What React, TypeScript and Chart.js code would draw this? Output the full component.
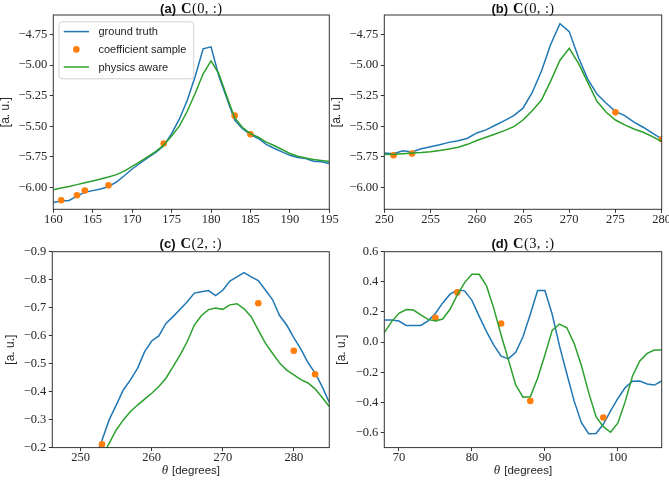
import React, { useEffect, useRef } from 'react';
import { Chart, registerables } from 'chart.js';

Chart.register(...registerables);

// ---------------- data ----------------
const SERIES_NAMES = ['ground truth', 'coefficient sample', 'physics aware'];
const PANEL_TAGS = ['a', 'b', 'c', 'd'];
const PANEL_COEFS = ['(0, :)', '(0, :)', '(2, :)', '(3, :)'];
const Y_LABEL = '[a. u.]';
const X_LABEL_SYMBOL = 'θ';
const X_LABEL_TEXT = '[degrees]';

// panel (a)
const A_THETA = [160, 161, 162, 163, 164, 165, 166, 167, 168, 169, 170, 171, 172, 173, 174, 175, 176, 177, 178, 179, 180, 181, 182, 183, 184, 185, 186, 187, 188, 189, 190, 191, 192, 193, 194, 195];
const A_TRUTH = [-6.125, -6.112, -6.108, -6.072, -6.04, -6.027, -6.013, -5.993, -5.958, -5.905, -5.85, -5.803, -5.756, -5.715, -5.66, -5.56, -5.44, -5.285, -5.09, -4.866, -4.85, -5.09, -5.27, -5.45, -5.52, -5.568, -5.6, -5.648, -5.68, -5.71, -5.738, -5.756, -5.764, -5.786, -5.79, -5.805];
const A_PHYS = [-6.02, -6.006, -5.993, -5.978, -5.963, -5.948, -5.932, -5.915, -5.896, -5.868, -5.828, -5.79, -5.748, -5.705, -5.655, -5.58, -5.497, -5.375, -5.23, -5.07, -4.965, -5.07, -5.255, -5.43, -5.51, -5.56, -5.59, -5.63, -5.658, -5.69, -5.723, -5.746, -5.76, -5.772, -5.78, -5.788];
const A_SAMPLE_THETA = [161, 163, 164, 167, 174, 183, 185];
const A_SAMPLE = [-6.106, -6.065, -6.027, -5.984, -5.641, -5.413, -5.565];

// panel (b)
const B_THETA = [250, 251, 252, 253, 254, 255, 256, 257, 258, 259, 260, 261, 262, 263, 264, 265, 266, 267, 268, 269, 270, 271, 272, 273, 274, 275, 276, 277, 278, 279, 280];
const B_TRUTH = [-5.72, -5.725, -5.7, -5.71, -5.685, -5.668, -5.652, -5.632, -5.618, -5.598, -5.555, -5.53, -5.492, -5.454, -5.413, -5.352, -5.223, -5.047, -4.829, -4.66, -4.725, -4.937, -5.114, -5.237, -5.312, -5.378, -5.413, -5.467, -5.508, -5.557, -5.603];
const B_PHYS = [-5.731, -5.729, -5.725, -5.72, -5.715, -5.708, -5.699, -5.686, -5.672, -5.648, -5.617, -5.59, -5.563, -5.536, -5.503, -5.449, -5.373, -5.285, -5.128, -4.959, -4.862, -4.986, -5.141, -5.296, -5.386, -5.449, -5.489, -5.522, -5.549, -5.585, -5.625];
const B_SAMPLE_THETA = [251, 253, 275, 280];
const B_SAMPLE = [-5.737, -5.724, -5.386, -5.606];

// panel (c)
const C_THETA = [252, 253, 254, 255, 256, 257, 258, 259, 260, 261, 262, 263, 264, 265, 266, 267, 268, 269, 270, 271, 272, 273, 274, 275, 276, 277, 278, 279, 280, 281, 282, 283, 284, 285];
const C_TRUTH = [-0.16, -0.226, -0.299, -0.352, -0.406, -0.442, -0.483, -0.543, -0.581, -0.599, -0.644, -0.668, -0.694, -0.721, -0.752, -0.757, -0.761, -0.743, -0.762, -0.795, -0.81, -0.825, -0.81, -0.797, -0.763, -0.729, -0.672, -0.638, -0.593, -0.552, -0.504, -0.466, -0.418, -0.361];
const C_PHYS = [-0.12, -0.168, -0.215, -0.263, -0.299, -0.329, -0.352, -0.373, -0.394, -0.418, -0.448, -0.489, -0.531, -0.579, -0.638, -0.672, -0.693, -0.699, -0.694, -0.71, -0.714, -0.696, -0.668, -0.62, -0.573, -0.537, -0.502, -0.477, -0.46, -0.443, -0.431, -0.41, -0.379, -0.347];
const C_SAMPLE_THETA = [253, 275, 280, 283];
const C_SAMPLE = [-0.212, -0.716, -0.546, -0.462];

// panel (d)
const D_THETA = [68, 69, 70, 71, 72, 73, 74, 75, 76, 77, 78, 79, 80, 81, 82, 83, 84, 85, 86, 87, 88, 89, 90, 91, 92, 93, 94, 95, 96, 97, 98, 99, 100, 101, 102, 103, 104, 105, 106];
const D_TRUTH = [0.147, 0.146, 0.14, 0.111, 0.11, 0.111, 0.141, 0.19, 0.26, 0.318, 0.346, 0.34, 0.277, 0.171, 0.07, -0.02, -0.093, -0.111, -0.067, 0.035, 0.185, 0.342, 0.342, 0.185, -0.025, -0.21, -0.39, -0.535, -0.608, -0.606, -0.545, -0.457, -0.374, -0.302, -0.26, -0.258, -0.278, -0.285, -0.258];
const D_PHYS = [0.063, 0.136, 0.191, 0.216, 0.213, 0.18, 0.151, 0.14, 0.153, 0.218, 0.313, 0.395, 0.45, 0.45, 0.373, 0.224, 0.047, -0.118, -0.284, -0.365, -0.362, -0.24, -0.085, 0.078, 0.12, 0.095, -0.008, -0.155, -0.335, -0.495, -0.561, -0.598, -0.536, -0.395, -0.225, -0.125, -0.075, -0.052, -0.052];
const D_SAMPLE_THETA = [75, 78, 84, 88, 98];
const D_SAMPLE = [0.162, 0.33, 0.124, -0.39, -0.5];

// axis ranges and ticks
const AB_Y_RANGE = [-6.18, -4.589];
const AB_Y_TICKS = [-6.0, -5.75, -5.5, -5.25, -5.0, -4.75];
const AB_Y_TICK_LABELS = ['−6.00', '−5.75', '−5.50', '−5.25', '−5.00', '−4.75'];
const C_Y_RANGE = [-0.9, -0.2];
const C_Y_TICKS = [-0.9, -0.8, -0.7, -0.6, -0.5, -0.4, -0.3, -0.2];
const C_Y_TICK_LABELS = ['−0.9', '−0.8', '−0.7', '−0.6', '−0.5', '−0.4', '−0.3', '−0.2'];
const D_Y_RANGE = [-0.7, 0.6];
const D_Y_TICKS = [-0.6, -0.4, -0.2, 0.0, 0.2, 0.4, 0.6];
const D_Y_TICK_LABELS = ['−0.6', '−0.4', '−0.2', '0.0', '0.2', '0.4', '0.6'];

const A_X_RANGE = [160, 195];
const A_X_TICKS = [160, 165, 170, 175, 180, 185, 190, 195];
const B_X_RANGE = [250, 280];
const B_X_TICKS = [250, 255, 260, 265, 270, 275, 280];
const C_X_RANGE = [246, 285];
const C_X_TICKS = [250, 260, 270, 280];
const D_X_RANGE = [68, 106];
const D_X_TICKS = [70, 80, 90, 100];

// ---------------- styling / layout ----------------
const W = 669;
const H = 480;
const BLUE = '#1f77b4';
const ORANGE = '#ff7f0e';
const GREEN = '#2ca02c';
const INK = '#262626';
const Y_AXIS_W = 40;
const X_AXIS_H = 30;
const TICK_FONT = { family: '"Liberation Serif", serif', size: 12.5, lineHeight: 1 };

type Geom = { l: number; t: number; r: number; b: number; titleY: number; yLabelX: number; xLabelY: number | null; xPad: number; legend: boolean };

const GEOMS: Geom[] = [
  { l: 53.3, t: 15, r: 329.3, b: 209.3, titleY: 13, yLabelX: 6, xLabelY: null, xPad: 1, legend: true },
  { l: 384.3, t: 15, r: 661.7, b: 209.3, titleY: 13, yLabelX: 337, xLabelY: null, xPad: 1, legend: false },
  { l: 52.3, t: 251.7, r: 329.3, b: 447.6, titleY: 248, yLabelX: 11, xLabelY: 470.5, xPad: 0, legend: false },
  { l: 384.3, t: 251.7, r: 661.7, b: 447.6, titleY: 248, yLabelX: 342, xLabelY: 470.5, xPad: 0, legend: false },
];

type Panel = {
  theta: number[]; truth: number[]; phys: number[]; sTheta: number[]; sVal: number[];
  xRange: number[]; xTicks: number[]; yRange: number[]; yTicks: number[]; yTickLabels: string[]; reverse: boolean;
};

const PANELS: Panel[] = [
  { theta: A_THETA, truth: A_TRUTH, phys: A_PHYS, sTheta: A_SAMPLE_THETA, sVal: A_SAMPLE, xRange: A_X_RANGE, xTicks: A_X_TICKS, yRange: AB_Y_RANGE, yTicks: AB_Y_TICKS, yTickLabels: AB_Y_TICK_LABELS, reverse: false },
  { theta: B_THETA, truth: B_TRUTH, phys: B_PHYS, sTheta: B_SAMPLE_THETA, sVal: B_SAMPLE, xRange: B_X_RANGE, xTicks: B_X_TICKS, yRange: AB_Y_RANGE, yTicks: AB_Y_TICKS, yTickLabels: AB_Y_TICK_LABELS, reverse: false },
  { theta: C_THETA, truth: C_TRUTH, phys: C_PHYS, sTheta: C_SAMPLE_THETA, sVal: C_SAMPLE, xRange: C_X_RANGE, xTicks: C_X_TICKS, yRange: C_Y_RANGE, yTicks: C_Y_TICKS, yTickLabels: C_Y_TICK_LABELS, reverse: true },
  { theta: D_THETA, truth: D_TRUTH, phys: D_PHYS, sTheta: D_SAMPLE_THETA, sVal: D_SAMPLE, xRange: D_X_RANGE, xTicks: D_X_TICKS, yRange: D_Y_RANGE, yTicks: D_Y_TICKS, yTickLabels: D_Y_TICK_LABELS, reverse: false },
];

function makeDecor(idx: number, g: Geom) {
  return {
    id: 'decor' + idx,
    afterDraw(chart: any) {
      const ctx: CanvasRenderingContext2D = chart.ctx;
      const ca = chart.chartArea;
      const cx = (ca.left + ca.right) / 2;
      ctx.save();
      // frame
      ctx.strokeStyle = '#333';
      ctx.lineWidth = 1;
      ctx.strokeRect(ca.left, ca.top, ca.right - ca.left, ca.bottom - ca.top);

      // title
      ctx.fillStyle = '#111';
      ctx.textBaseline = 'alphabetic';
      const parts = [
        { text: '(' + PANEL_TAGS[idx] + ')', font: 'bold 13px "Liberation Sans", sans-serif', gap: 5, ls: '0px' },
        { text: 'C', font: 'bold 14.5px "Liberation Serif", serif', gap: 0.5, ls: '0px' },
        { text: PANEL_COEFS[idx], font: '14.5px "Liberation Serif", serif', gap: 0, ls: '0.4px' },
      ];
      let total = 0;
      const widths: number[] = [];
      for (const p of parts) {
        ctx.font = p.font;
        (ctx as any).letterSpacing = p.ls;
        const w = ctx.measureText(p.text).width;
        widths.push(w);
        total += w + p.gap;
      }
      let x = cx - total / 2;
      ctx.textAlign = 'left';
      parts.forEach((p, i) => {
        ctx.font = p.font;
        (ctx as any).letterSpacing = p.ls;
        ctx.fillText(p.text, x, g.titleY);
        x += widths[i] + p.gap;
      });
      (ctx as any).letterSpacing = '0px';

      // y label
      ctx.save();
      ctx.translate(g.yLabelX, (ca.top + ca.bottom) / 2);
      ctx.rotate(-Math.PI / 2);
      ctx.font = '12px "Liberation Sans", sans-serif';
      ctx.fillStyle = INK;
      ctx.textAlign = 'center';
      ctx.textBaseline = 'middle';
      ctx.fillText(Y_LABEL, 0, 0);
      ctx.restore();

      // x label
      if (g.xLabelY !== null) {
        ctx.fillStyle = INK;
        ctx.textBaseline = 'middle';
        ctx.textAlign = 'left';
        const f1 = 'italic 13px "Liberation Serif", serif';
        const f2 = '11.5px "Liberation Sans", sans-serif';
        ctx.font = f1;
        const w1 = ctx.measureText(X_LABEL_SYMBOL).width;
        ctx.font = f2;
        const w2 = ctx.measureText(X_LABEL_TEXT).width;
        const gap = 4;
        const sx = cx - (w1 + gap + w2) / 2;
        ctx.font = f1;
        ctx.fillText(X_LABEL_SYMBOL, sx, g.xLabelY);
        ctx.font = f2;
        ctx.fillText(X_LABEL_TEXT, sx + w1 + gap, g.xLabelY);
      }

      // legend
      if (g.legend) {
        const bx = ca.left + 5.7, by = ca.top + 6.8, bw = 134.7, bh = 57;
        ctx.beginPath();
        (ctx as any).roundRect(bx, by, bw, bh, 3);
        ctx.fillStyle = 'rgba(255,255,255,0.85)';
        ctx.fill();
        ctx.strokeStyle = '#d0d0d0';
        ctx.lineWidth = 1;
        ctx.stroke();
        const rows = [by + 9.8, by + 27.6, by + 45.2];
        const colors = [BLUE, ORANGE, GREEN];
        const lx0 = bx + 4.7, lx1 = bx + 30;
        ctx.font = '11px "Liberation Sans", sans-serif';
        ctx.textBaseline = 'middle';
        ctx.textAlign = 'left';
        SERIES_NAMES.forEach((name, i) => {
          if (i === 1) {
            ctx.beginPath();
            ctx.arc((lx0 + lx1) / 2, rows[i], 3.3, 0, Math.PI * 2);
            ctx.fillStyle = colors[i];
            ctx.fill();
          } else {
            ctx.beginPath();
            ctx.moveTo(lx0, rows[i]);
            ctx.lineTo(lx1, rows[i]);
            ctx.strokeStyle = colors[i];
            ctx.lineWidth = 1.5;
            ctx.stroke();
          }
          ctx.fillStyle = '#222';
          ctx.fillText(name, bx + 39.5, rows[i] + 0.5);
        });
      }
      ctx.restore();
    },
  };
}

function buildConfig(idx: number): any {
  const p = PANELS[idx];
  const g = GEOMS[idx];
  const truthPts = p.theta.map((x, i) => ({ x, y: p.truth[i] }));
  const physPts = p.theta.map((x, i) => ({ x, y: p.phys[i] }));
  const samplePts = p.sTheta.map((x, i) => ({ x, y: p.sVal[i] }));
  const gridOpts = { display: true, drawOnChartArea: false, drawTicks: true, tickLength: 3.5, color: '#333', lineWidth: 1 };
  return {
    type: 'scatter',
    data: {
      datasets: [
        { label: SERIES_NAMES[0], data: truthPts, showLine: true, borderColor: BLUE, backgroundColor: BLUE, borderWidth: 1.5, pointRadius: 0, pointHoverRadius: 0, order: 3, clip: 0 },
        { label: SERIES_NAMES[1], data: samplePts, showLine: false, backgroundColor: ORANGE, borderColor: ORANGE, borderWidth: 0, pointRadius: 3.3, pointHoverRadius: 3.3, order: 2, clip: 0 },
        { label: SERIES_NAMES[2], data: physPts, showLine: true, borderColor: GREEN, backgroundColor: GREEN, borderWidth: 1.5, pointRadius: 0, pointHoverRadius: 0, order: 1, clip: 0 },
      ],
    },
    options: {
      responsive: false,
      animation: false,
      events: [],
      layout: { padding: { left: g.l - Y_AXIS_W, top: g.t, right: W - g.r, bottom: H - g.b - X_AXIS_H } },
      plugins: { legend: { display: false }, tooltip: { enabled: false }, title: { display: false } },
      scales: {
        x: {
          type: 'linear',
          min: p.xRange[0],
          max: p.xRange[1],
          afterBuildTicks: (s: any) => { s.ticks = p.xTicks.map((v) => ({ value: v })); },
          afterFit: (s: any) => { s.height = X_AXIS_H; s.paddingLeft = 0; s.paddingRight = 0; },
          ticks: { autoSkip: false, maxRotation: 0, minRotation: 0, padding: g.xPad, color: INK, font: TICK_FONT, callback: (v: number) => String(v) },
          grid: gridOpts,
          border: { display: false },
        },
        y: {
          type: 'linear',
          min: p.yRange[0],
          max: p.yRange[1],
          reverse: p.reverse,
          afterBuildTicks: (s: any) => { s.ticks = p.yTicks.map((v) => ({ value: v })); },
          afterFit: (s: any) => { s.width = Y_AXIS_W; s.paddingTop = 0; s.paddingBottom = 0; },
          ticks: { autoSkip: false, padding: 2.5, color: INK, font: TICK_FONT, callback: (_v: number, i: number) => p.yTickLabels[i] },
          grid: gridOpts,
          border: { display: false },
        },
      },
    },
    plugins: [makeDecor(idx, g)],
  };
}

export default function App() {
  const refs = [useRef<HTMLCanvasElement>(null), useRef<HTMLCanvasElement>(null), useRef<HTMLCanvasElement>(null), useRef<HTMLCanvasElement>(null)];
  useEffect(() => {
    const charts: Chart[] = [];
    refs.forEach((r, i) => {
      if (r.current) charts.push(new Chart(r.current, buildConfig(i)));
    });
    return () => charts.forEach((c) => c.destroy());
  }, []);
  return (
    <div style={{ position: 'fixed', left: 0, top: 0, width: W, height: H, background: '#fff', overflow: 'hidden' }}>
      {refs.map((r, i) => (
        <canvas key={i} ref={r} width={W} height={H} style={{ position: 'absolute', left: 0, top: 0, width: W, height: H }} />
      ))}
    </div>
  );
}
